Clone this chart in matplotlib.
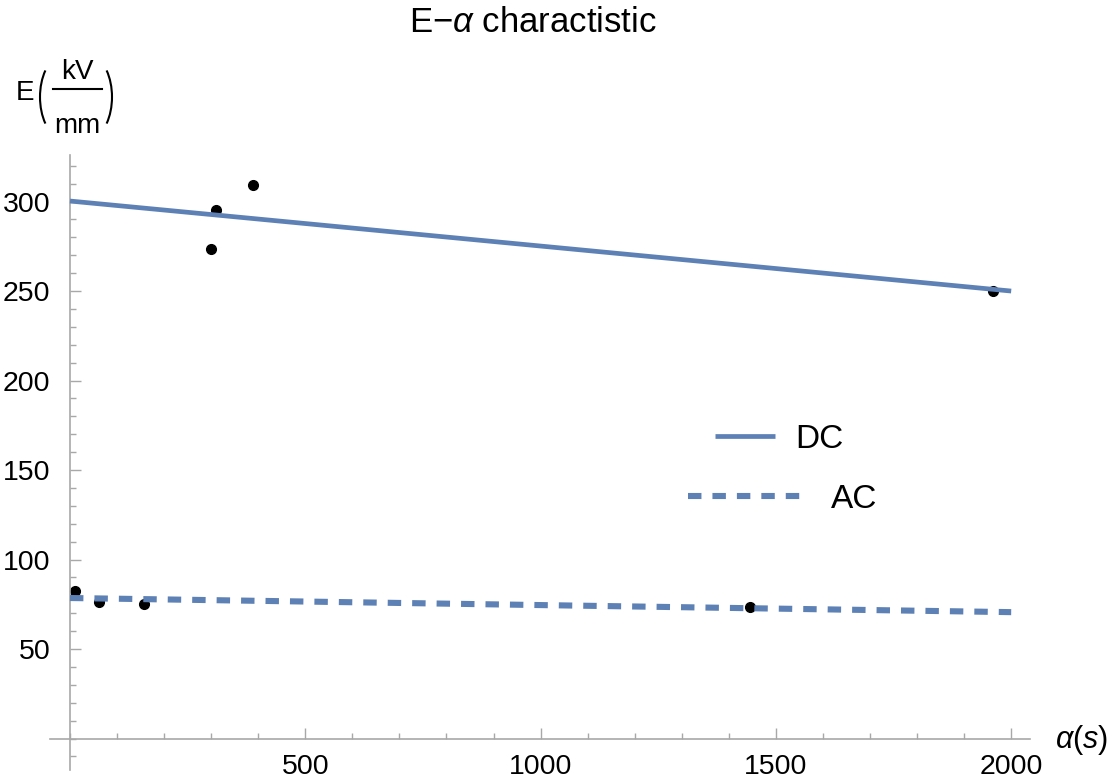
import numpy as np
import matplotlib
matplotlib.use("Agg")
import matplotlib.pyplot as plt
from matplotlib.lines import Line2D
from matplotlib.patches import Arc
from matplotlib.ticker import MultipleLocator, FixedLocator

plt.rcParams['font.family'] = ['Liberation Sans', 'DejaVu Sans']
plt.rcParams['mathtext.fontset'] = 'custom'
plt.rcParams['mathtext.rm'] = 'Liberation Sans'
plt.rcParams['mathtext.it'] = 'Liberation Sans:italic'

# measured points
dc_time = [300, 311, 389, 1962]
dc_field = [273.5, 295.3, 309.2, 250.0]
ac_time = [10.6, 62, 157, 1445]
ac_field = [82.3, 76.1, 75.1, 73.6]

# fitted lines (end values)
fit_time = [0, 2000]
dc_fit = [300.3, 250.0]
ac_fit = [78.5, 70.6]

x_ticks = [500, 1000, 1500, 2000]
y_ticks = [50, 100, 150, 200, 250, 300]

line_color = '#5E81B5'
axis_color = '#a8a8a8'

W, H = 1118, 783
fig = plt.figure(figsize=(W / 100, H / 100), dpi=100)
ax = fig.add_axes([0.0447, 0.0166, 0.8766, 0.7854])

ax.plot(dc_time, dc_field, 'o', color='black', ms=7, zorder=2)
ax.plot(ac_time, ac_field, 'o', color='black', ms=7, zorder=2)
dc_line, = ax.plot(fit_time, dc_fit, color=line_color, lw=3.4,
                   solid_capstyle='butt', zorder=3)
ac_line, = ax.plot(fit_time, ac_fit, color=line_color, lw=4.4,
                   dashes=(2.2, 1.8), dash_capstyle='butt', zorder=3)

ax.set_xlim(-42.5, 2040)
ax.set_ylim(-17.6, 326)

for side in ['top', 'right']:
    ax.spines[side].set_visible(False)
ax.spines['left'].set_position(('data', 0))
ax.spines['bottom'].set_position(('data', 0))
for side in ['left', 'bottom']:
    ax.spines[side].set_color(axis_color)
    ax.spines[side].set_linewidth(1.2)

ax.xaxis.set_major_locator(FixedLocator(x_ticks))
ax.xaxis.set_minor_locator(MultipleLocator(100))
ax.yaxis.set_major_locator(FixedLocator(y_ticks))
ax.yaxis.set_minor_locator(MultipleLocator(10))
ax.tick_params(which='both', direction='in', color=axis_color, width=1)
ax.tick_params(which='major', length=8, labelsize=20.5)
ax.tick_params(axis='x', which='major', pad=11)
ax.tick_params(axis='y', which='major', pad=14)
ax.tick_params(which='minor', length=4)

# title
fig.text(533 / W, 1 - 22 / H, r'E$-\mathit{\alpha}$ charactistic',
         fontsize=25, ha='center', va='center')


# y label built from pieces: E ( kV / mm ), positions in pixels from top-left
def fx(px):
    return px / W


def fy(py):
    return 1 - py / H


fig.text(fx(25), fy(100), 'E', fontsize=20, ha='center', va='baseline')
fig.text(fx(77), fy(79), 'kV', fontsize=20, ha='center', va='baseline')
fig.text(fx(77), fy(133), 'mm', fontsize=20, ha='center', va='baseline')
fig.add_artist(Line2D([fx(53), fx(102)], [fy(89), fy(89)], color='black',
                      lw=1.5, transform=fig.transFigure))
# thin tall parentheses as elliptic arcs (display pixels)
par_cy = H - 97
fig.add_artist(Arc((64, par_cy), 48, 84, theta1=125, theta2=235,
                   color='black', lw=1.5, transform=None))
fig.add_artist(Arc((88, par_cy), 48, 84, theta1=-55, theta2=55,
                   color='black', lw=1.5, transform=None))

ax.text(1.025, 0.049, r'$\alpha(s)$', transform=ax.transAxes,
        fontsize=22, ha='left', va='center')

leg1 = ax.legend([dc_line], ['DC'], loc='center left', frameon=False,
                 bbox_to_anchor=(0.648, 0.538), fontsize=24, handlelength=1.8,
                 handletextpad=0.6)
ax.add_artist(leg1)
ax.legend([ac_line], ['AC'], loc='center left', frameon=False,
          bbox_to_anchor=(0.62, 0.44), fontsize=24, handlelength=3.5,
          handletextpad=0.8)

fig.savefig('out.png', dpi=100)
